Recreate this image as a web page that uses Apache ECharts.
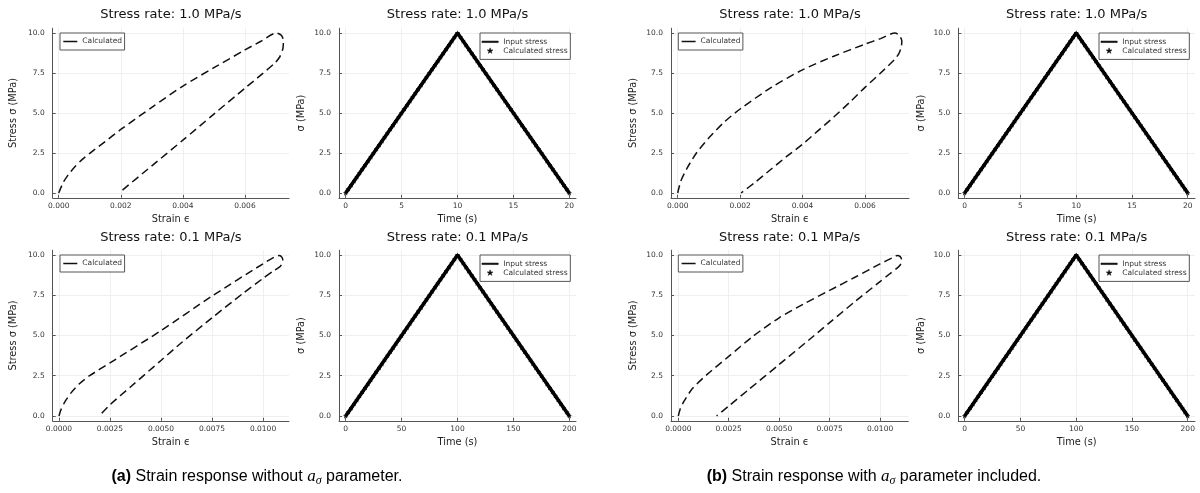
<!DOCTYPE html>
<html>
<head>
<meta charset="utf-8">
<script src="https://cdn.jsdelivr.net/npm/echarts@6/dist/echarts.min.js"></script>
<style>
  html, body { margin: 0; padding: 0; background: #ffffff; }
  #chart { width: 1200px; height: 493px; }
</style>
</head>
<body>
<div id="chart"></div>
<script>
// ---- Tick values ----
const stressTicks = [0, 2.5, 5, 7.5, 10];
const strainTicksFast = [0, 0.002, 0.004, 0.006];
const strainTicksSlow = [0, 0.0025, 0.005, 0.0075, 0.01];
const timeTicksFast = [0, 5, 10, 15, 20];
const timeTicksSlow = [0, 50, 100, 150, 200];

// ---- Stress–strain loops (strain, stress in MPa): loading, creep nose, unloading ----
// (a) without a_sigma, 1.0 MPa/s
const strainA1 = [0, 0.00014, 0.0003, 0.00052, 0.00076, 0.001, 0.0015, 0.002, 0.003, 0.004, 0.005, 0.006, 0.0065, 0.00702, 0.00718, 0.00724, 0.00722, 0.00712, 0.00695, 0.0065, 0.006, 0.005, 0.004, 0.003, 0.00194];
const stressA1 = [0, 0.64, 1.12, 1.64, 2.1, 2.48, 3.22, 3.97, 5.35, 6.68, 7.83, 8.94, 9.47, 10.0, 9.85, 9.5, 9.0, 8.5, 8.1, 7.35, 6.55, 4.93, 3.3, 1.7, 0];
// (a) without a_sigma, 0.1 MPa/s
const strainA2 = [0, 0.0001, 0.0003, 0.0006, 0.001, 0.0015, 0.0025, 0.005, 0.0075, 0.01, 0.0108, 0.01093, 0.01097, 0.0109, 0.0108, 0.0105, 0.01, 0.009, 0.0075, 0.006, 0.005, 0.0035, 0.0025, 0.00197];
const stressA2 = [0, 0.4, 0.9, 1.45, 2.0, 2.5, 3.3, 5.3, 7.45, 9.45, 9.97, 9.85, 9.65, 9.4, 9.25, 9.0, 8.55, 7.6, 6.1, 4.55, 3.45, 1.8, 0.7, 0];
// (b) with a_sigma, 1.0 MPa/s
const strainB1 = [0, 0.0001, 0.0003, 0.0006, 0.001, 0.0015, 0.002, 0.003, 0.004, 0.005, 0.006, 0.0065, 0.00696, 0.0071, 0.00718, 0.00716, 0.00708, 0.00695, 0.0065, 0.006, 0.0055, 0.005, 0.0045, 0.004, 0.0035, 0.003, 0.0025, 0.00203];
const stressB1 = [0, 0.75, 1.55, 2.5, 3.45, 4.45, 5.25, 6.6, 7.7, 8.55, 9.3, 9.65, 10.0, 9.85, 9.5, 9.1, 8.7, 8.35, 7.5, 6.6, 5.65, 4.75, 3.9, 3.05, 2.3, 1.5, 0.7, 0];
// (b) with a_sigma, 0.1 MPa/s
const strainB2 = [0, 0.0001, 0.0003, 0.0007, 0.0014, 0.0025, 0.0037, 0.005, 0.0062, 0.0075, 0.0088, 0.01, 0.0106, 0.01085, 0.011, 0.01107, 0.01103, 0.0109, 0.0105, 0.01, 0.0088, 0.0075, 0.0065, 0.005, 0.0035, 0.0025, 0.0019];
const stressB2 = [0, 0.45, 0.95, 1.7, 2.55, 3.7, 4.95, 6.1, 6.95, 7.8, 8.65, 9.45, 9.82, 9.97, 9.9, 9.7, 9.45, 9.25, 8.85, 8.35, 7.15, 5.8, 4.75, 3.2, 1.65, 0.62, 0];

// ---- Stress history: input ramp and calculated samples ----
const inputTimeFast = [0, 10, 20];
const inputTimeSlow = [0, 100, 200];
const inputStress = [0, 10, 0];
const calcTimeFast = [0,0.25,0.5,0.75,1,1.25,1.5,1.75,2,2.25,2.5,2.75,3,3.25,3.5,3.75,4,4.25,4.5,4.75,5,5.25,5.5,5.75,6,6.25,6.5,6.75,7,7.25,7.5,7.75,8,8.25,8.5,8.75,9,9.25,9.5,9.75,10,10.25,10.5,10.75,11,11.25,11.5,11.75,12,12.25,12.5,12.75,13,13.25,13.5,13.75,14,14.25,14.5,14.75,15,15.25,15.5,15.75,16,16.25,16.5,16.75,17,17.25,17.5,17.75,18,18.25,18.5,18.75,19,19.25,19.5,19.75,20];
const calcTimeSlow = [0,2.5,5,7.5,10,12.5,15,17.5,20,22.5,25,27.5,30,32.5,35,37.5,40,42.5,45,47.5,50,52.5,55,57.5,60,62.5,65,67.5,70,72.5,75,77.5,80,82.5,85,87.5,90,92.5,95,97.5,100,102.5,105,107.5,110,112.5,115,117.5,120,122.5,125,127.5,130,132.5,135,137.5,140,142.5,145,147.5,150,152.5,155,157.5,160,162.5,165,167.5,170,172.5,175,177.5,180,182.5,185,187.5,190,192.5,195,197.5,200];
const calcStress = [0,0.25,0.5,0.75,1,1.25,1.5,1.75,2,2.25,2.5,2.75,3,3.25,3.5,3.75,4,4.25,4.5,4.75,5,5.25,5.5,5.75,6,6.25,6.5,6.75,7,7.25,7.5,7.75,8,8.25,8.5,8.75,9,9.25,9.5,9.75,10,9.75,9.5,9.25,9,8.75,8.5,8.25,8,7.75,7.5,7.25,7,6.75,6.5,6.25,6,5.75,5.5,5.25,5,4.75,4.5,4.25,4,3.75,3.5,3.25,3,2.75,2.5,2.25,2,1.75,1.5,1.25,1,0.75,0.5,0.25,0];

const titleFast = 'Stress rate: 1.0 MPa/s';
const titleSlow = 'Stress rate: 0.1 MPa/s';

// ---- Drawing ----
const FONT = '"DejaVu Sans", sans-serif';
const STAR = 'path://M50,0 L61.2,34.5 L97.6,34.5 L68.2,55.9 L79.4,90.5 L50,69.1 L20.6,90.5 L31.8,55.9 L2.4,34.5 L38.8,34.5 Z';
const DASH_ICON = 'path://M0,0 H100 V10.7 H0 Z';
const LINE_ICON = 'path://M0,0 H100 V9.2 H0 Z';
const zip = (xs, ys) => xs.map((x, i) => [x, ys[i]]);

const ROW_TOP = { top: 28.2, height: 169.6 };
const ROW_BOT = { top: 250.2, height: 170.6 };

const panels = [
  // (a) strain column
  { kind: 'strain', row: ROW_TOP, left: 52.7, width: 236.3, xmin: -0.000194, xmax: 0.00742, ticks: strainTicksFast, dec: 3, title: titleFast, xs: strainA1, ys: stressA1, yGap: 34.7 },
  { kind: 'strain', row: ROW_BOT, left: 52.7, width: 236.3, xmin: -0.000308, xmax: 0.011273, ticks: strainTicksSlow, dec: 4, title: titleSlow, xs: strainA2, ys: stressA2, yGap: 34.7 },
  // (a) time column
  { kind: 'time', row: ROW_TOP, left: 339, width: 237, xmin: -0.6, xmax: 20.6, ticks: timeTicksFast, dec: 0, title: titleFast, it: inputTimeFast, ct: calcTimeFast, yGap: 32.3 },
  { kind: 'time', row: ROW_BOT, left: 339, width: 237, xmin: -6, xmax: 206, ticks: timeTicksSlow, dec: 0, title: titleSlow, it: inputTimeSlow, ct: calcTimeSlow, yGap: 32.3 },
  // (b) strain column
  { kind: 'strain', row: ROW_TOP, left: 671, width: 238, xmin: -0.0002146, xmax: 0.00741, ticks: strainTicksFast, dec: 3, title: titleFast, xs: strainB1, ys: stressB1, yGap: 32.7 },
  { kind: 'strain', row: ROW_BOT, left: 671, width: 237.3, xmin: -0.000362, xmax: 0.0114, ticks: strainTicksSlow, dec: 4, title: titleSlow, xs: strainB2, ys: stressB2, yGap: 32.7 },
  // (b) time column
  { kind: 'time', row: ROW_TOP, left: 958.3, width: 236.7, xmin: -0.57, xmax: 20.65, ticks: timeTicksFast, dec: 0, title: titleFast, it: inputTimeFast, ct: calcTimeFast, yGap: 32 },
  { kind: 'time', row: ROW_BOT, left: 958.3, width: 236.7, xmin: -5.7, xmax: 206.5, ticks: timeTicksSlow, dec: 0, title: titleSlow, it: inputTimeSlow, ct: calcTimeSlow, yGap: 32 }
];

const axisLineStyle = { color: '#555555', width: 1 };
const splitStyle = { color: '#ebebeb', width: 0.8 };
const labelStyle = { fontSize: 7.5, fontFamily: FONT, color: '#333333' };
const nameStyle = { fontSize: 9.8, fontFamily: FONT, color: '#222222' };

const grid = [], xAxis = [], yAxis = [], series = [], legend = [], graphic = [];

panels.forEach((p, i) => {
  grid.push({ left: p.left, top: p.row.top, width: p.width, height: p.row.height, containLabel: false });
  xAxis.push({
    type: 'value', gridIndex: i, min: p.xmin, max: p.xmax,
    name: p.kind === 'strain' ? 'Strain ϵ' : 'Time (s)',
    nameLocation: 'middle', nameGap: 16.5, nameTextStyle: nameStyle,
    axisLine: { show: true, onZero: false, lineStyle: axisLineStyle },
    axisTick: { show: true, inside: true, length: 3, customValues: p.ticks, lineStyle: axisLineStyle },
    axisLabel: { customValues: p.ticks, margin: 4, formatter: v => Number(v).toFixed(p.dec), ...labelStyle },
    splitLine: { show: true, lineStyle: splitStyle }
  });
  yAxis.push({
    type: 'value', gridIndex: i, min: -0.3, max: 10.3,
    name: p.kind === 'strain' ? 'Stress σ (MPa)' : 'σ (MPa)',
    nameLocation: 'middle', nameGap: p.yGap, nameRotate: 90, nameTextStyle: nameStyle,
    axisLine: { show: true, onZero: false, lineStyle: axisLineStyle },
    axisTick: { show: true, inside: true, length: 3, customValues: stressTicks, lineStyle: axisLineStyle },
    axisLabel: { customValues: stressTicks, margin: 8, formatter: v => Number(v).toFixed(1), ...labelStyle },
    splitLine: { show: true, lineStyle: splitStyle }
  });

  graphic.push({
    type: 'text', x: p.left + p.width / 2, y: p.row === ROW_TOP ? 14.3 : 237.7,
    style: { text: p.title, font: '13px ' + FONT, fill: '#111111', textAlign: 'center', textVerticalAlign: 'middle' },
    silent: true
  });

  if (p.kind === 'strain') {
    series.push({
      name: 'Calculated', type: 'line', xAxisIndex: i, yAxisIndex: i,
      data: zip(p.xs, p.ys), symbol: 'none', showSymbol: false, smooth: 0.25,
      lineStyle: { color: '#111111', width: 1.5, type: [8, 4.5] },
      itemStyle: { color: '#111111' }
    });
    legend.push({
      left: p.left + 7.3, top: p.row.top + 4.8, orient: 'vertical',
      data: [{ name: 'Calculated', icon: DASH_ICON }], itemWidth: 14, itemHeight: 8, itemGap: 2, itemTextGap: 3.7,
      padding: [4.5, 2.5, 4.5, 3.3], borderColor: '#555555', borderWidth: 1, borderRadius: 0,
      backgroundColor: '#ffffff', selectedMode: false,
      itemStyle: { color: '#111111' },
      textStyle: { fontSize: 7.5, fontFamily: FONT, color: '#333333', lineHeight: 8 }
    });
  } else {
    series.push({
      name: 'Input stress', type: 'line', xAxisIndex: i, yAxisIndex: i,
      data: zip(p.it, inputStress), symbol: 'none', showSymbol: false,
      lineStyle: { color: '#000000', width: 3.6 }, itemStyle: { color: '#000000' }
    });
    series.push({
      name: 'Calculated stress', type: 'scatter', xAxisIndex: i, yAxisIndex: i,
      data: zip(p.ct, calcStress), symbol: STAR, symbolSize: 4.2,
      itemStyle: { color: '#2a0d08', borderColor: '#000000', borderWidth: 0.5, opacity: 1 }
    });
    legend.push({
      left: p.left + p.width - 96, top: p.row.top + 4.8, orient: 'vertical',
      data: [{ name: 'Input stress', icon: LINE_ICON }, { name: 'Calculated stress', icon: STAR }],
      itemWidth: 16.3, itemHeight: 5.5, itemGap: 0.4, itemTextGap: 2,
      padding: [4.6, 2.7, 4.6, 1.7], borderColor: '#555555', borderWidth: 1, borderRadius: 0,
      backgroundColor: '#ffffff', selectedMode: false,
      itemStyle: { color: '#111111', borderColor: '#000000', borderWidth: 0.5 },
      textStyle: { fontSize: 7.5, fontFamily: FONT, color: '#333333', lineHeight: 8.4 }
    });
  }
});

// ---- Sub-figure captions, built from measured text pieces ----
const measureCtx = document.createElement('canvas').getContext('2d');
function caption(cx, cy, parts) {
  const widths = parts.map(pt => { measureCtx.font = pt.font; return measureCtx.measureText(pt.text).width; });
  let x = cx - widths.reduce((a, b) => a + b, 0) / 2;
  parts.forEach((pt, k) => {
    graphic.push({
      type: 'text', x: x, y: cy + (pt.dy || 0), silent: true,
      style: { text: pt.text, font: pt.font, fill: '#000000', textAlign: 'left', textVerticalAlign: 'middle' }
    });
    x += widths[k];
  });
}
const CAP = '"Liberation Sans", Arial, sans-serif';
const MATH = '"Liberation Serif", "DejaVu Serif", serif';
caption(257, 477, [
  { text: '(a)', font: 'bold 16px ' + CAP },
  { text: ' Strain response without ', font: '16px ' + CAP },
  { text: 'a', font: 'italic 17px ' + MATH },
  { text: 'σ', font: 'italic 12px ' + MATH, dy: 4 },
  { text: ' parameter.', font: '16px ' + CAP }
]);
caption(874, 477, [
  { text: '(b)', font: 'bold 16px ' + CAP },
  { text: ' Strain response with ', font: '16px ' + CAP },
  { text: 'a', font: 'italic 17px ' + MATH },
  { text: 'σ', font: 'italic 12px ' + MATH, dy: 4 },
  { text: ' parameter included.', font: '16px ' + CAP }
]);

const chart = echarts.init(document.getElementById('chart'), null, { renderer: 'canvas' });
chart.setOption({
  animation: false,
  backgroundColor: '#ffffff',
  grid, xAxis, yAxis, series, legend, graphic
});
</script>
</body>
</html>
